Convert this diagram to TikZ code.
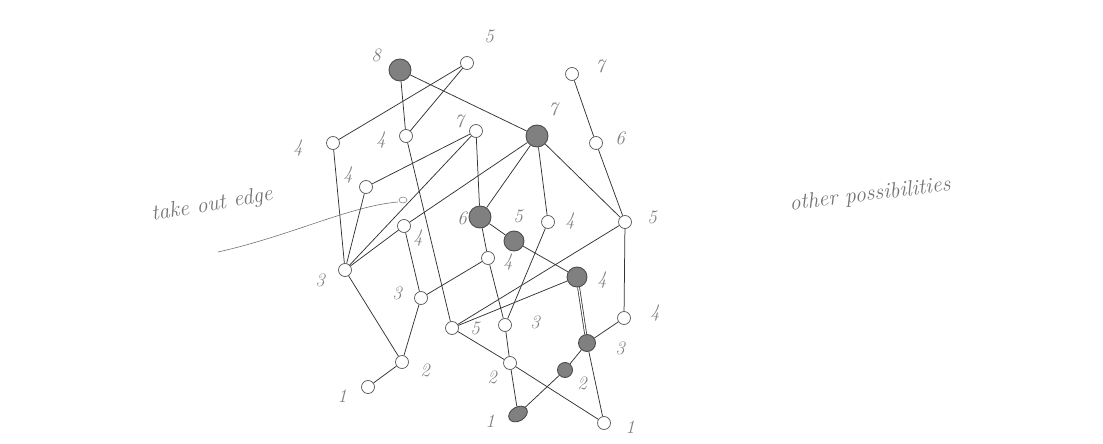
\documentclass[tikz,border=0pt]{standalone}
\usetikzlibrary{shapes.geometric}
\begin{document}
\begin{tikzpicture}[x=1pt,y=-1pt,
  v/.style={circle,draw=black!65,line width=0.7pt,fill=white,minimum size=13pt,inner sep=0pt},
  fv/.style={circle,draw=black!70,line width=0.9pt,fill=black!50,minimum size=22pt,inner sep=0pt},
  ed/.style={draw=black!80,line width=0.75pt},
  lab/.style={text=black!50,font=\fontsize{19}{19}\selectfont\itshape},
  hand/.style={text=black!55,font=\fontsize{22}{22}\selectfont\itshape}]
\useasboundingbox (0,0) rectangle (1103,444);
% ---- left lattice
\node[fv] (n8) at (400,70) {};
\node[v] (n5) at (467,63) {};
\node[v] (a4) at (333,143) {};
\node[v] (b4) at (406,136) {};
\node[v] (c7) at (476,131) {};
\node[v] (d4) at (366,187) {};
\node[v] (e4) at (404,226) {};
\node[v] (f3) at (345,270) {};
\node[v] (g3) at (421,298) {};
\node[v] (h2) at (402,362) {};
\node[v] (i1) at (368,387) {};
% ---- middle / right lattice
\node[fv] (F7) at (537,136) {};
\node[fv] (F6) at (480,217) {};
\node[fv,minimum size=20pt] (F5) at (514,241) {};
\node[v] (p4) at (488,258) {};
\node[v] (q4) at (548,222) {};
\node[v] (r5) at (625,222) {};
\node[fv,minimum size=20pt] (F4) at (577,277) {};
\node[v] (m5) at (452,328) {};
\node[v] (s3) at (505,325) {};
\node[v] (t2) at (510,363) {};
\node[fv,minimum size=17pt] (F3) at (587,343) {};
\node[fv,minimum size=15pt] (F2) at (565,370) {};
\node[fv,ellipse,minimum width=20pt,minimum height=14pt,rotate=30] (F1) at (518,414) {};
\node[v] (u4) at (624,318) {};
\node[v] (v1) at (604,423) {};
\node[v] (w7) at (572,74) {};
\node[v] (x6) at (596,143) {};
% ---- edges
\draw[ed] (n8) -- (b4);
\draw[ed] (n8) -- (F7);
\draw[ed] (n5) -- (a4);
\draw[ed] (n5) -- (b4);
\draw[ed] (a4) -- (f3);
\draw[ed] (d4) -- (f3);
\draw[ed] (c7) -- (d4);
\draw[ed] (c7) -- (f3);
\draw[ed] (c7) -- (F6);
\draw[ed] (F7) -- (e4);
\draw[ed] (e4) -- (f3);
\draw[ed] (e4) -- (g3);
\draw[ed] (f3) -- (h2);
\draw[ed] (g3) -- (h2);
\draw[ed] (h2) -- (i1);
\draw[ed] (g3) -- (p4);
\draw[ed] (b4) -- (m5);
\draw[ed] (F7) -- (F6);
\draw[ed] (F7) -- (q4);
\draw[ed] (F7) -- (r5);
\draw[ed] (w7) -- (x6);
\draw[ed] (x6) -- (r5);
\draw[ed] (F6) -- (F5);
\draw[ed] (F6) -- (p4);
\draw[ed] (p4) -- (s3);
\draw[ed] (F5) -- (F4);
\draw[ed] (q4) -- (s3);
\draw[ed] (r5) -- (m5);
\draw[ed] (F4) -- (m5);
\draw[ed,double=white,double distance=1.2pt] (F4) -- (F3);
\draw[ed] (r5) -- (u4);
\draw[ed] (u4) -- (F3);
\draw[ed] (F3) -- (F2);
\draw[ed] (F2) -- (F1);
\draw[ed] (F3) -- (v1);
\draw[ed] (m5) -- (t2);
\draw[ed] (t2) -- (v1);
\draw[ed] (s3) -- (t2);
\draw[ed] (t2) -- (F1);
% ---- labels
\node[lab] (l8) at (376,55) {8};
\node[lab] (l5) at (489,36) {5};
\node[lab] (la4) at (298,148) {4};
\node[lab] (lb4) at (381,140) {4};
\node[lab] (lc7) at (459,121) {7};
\node[lab] (ld4) at (348,175) {4};
\node[lab] (le4) at (418,238) {4};
\node[lab] (lf3) at (320,280) {3};
\node[lab] (lg3) at (397,293) {3};
\node[lab] (lh2) at (425,370) {2};
\node[lab] (li1) at (342,396) {1};
\node[lab] (lF7) at (553,109) {7};
\node[lab] (lF6) at (462,218) {6};
\node[lab] (lF5) at (518,216) {5};
\node[lab] (lp4) at (508,262) {4};
\node[lab] (lq4) at (570,221) {4};
\node[lab] (lr5) at (652,217) {5};
\node[lab] (lF4) at (602,280) {4};
\node[lab] (lm5) at (475,328) {5};
\node[lab] (ls3) at (535,322) {3};
\node[lab] (lt2) at (492,377) {2};
\node[lab] (lF1) at (490,421) {1};
\node[lab] (lF3) at (620,348) {3};
\node[lab] (lF2) at (582,383) {2};
\node[lab] (lu4) at (655,313) {4};
\node[lab] (lv1) at (630,427) {1};
\node[lab] (lw7) at (600,66) {7};
\node[lab] (lx6) at (620,138) {6};
% ---- annotations
\node[hand,rotate=10] (take) at (212,205) {take out edge};
\node[hand,rotate=7] (other) at (870,195) {other possibilities};
\coordinate (toe1) at (218,252);
\coordinate (toe2) at (398,202);
\draw[black!55,line width=0.6pt] (toe1) .. controls (290,236) and (350,206) .. (toe2);
\node[draw=black!55,line width=0.5pt,ellipse,minimum width=8pt,minimum height=6pt,inner sep=0pt] (mark) at (403,200) {};
\end{tikzpicture}
\end{document}
